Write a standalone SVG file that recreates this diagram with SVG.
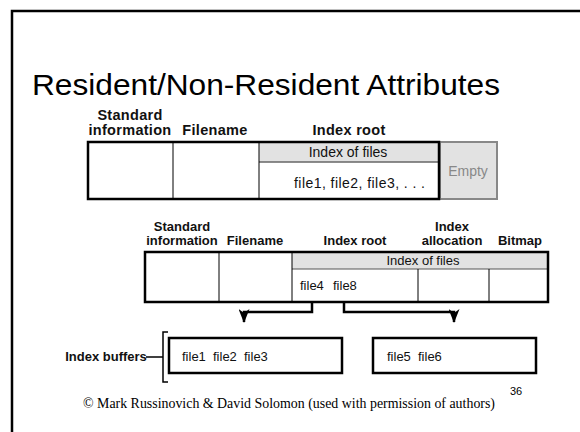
<svg xmlns="http://www.w3.org/2000/svg" width="580" height="432" viewBox="0 0 580 432">
<style>
.hd{font-family:"Liberation Sans",Arial,sans-serif;font-weight:bold;font-size:14.5px;letter-spacing:0.3px;fill:#111;text-anchor:middle}
.hd2{font-family:"Liberation Sans",Arial,sans-serif;font-weight:bold;font-size:13px;fill:#111;text-anchor:middle}
.tx{font-family:"Liberation Sans",Arial,sans-serif;font-size:14px;fill:#111}
.tx2{font-family:"Liberation Sans",Arial,sans-serif;font-size:13px;fill:#111}
.thick{fill:none;stroke:#000;stroke-width:2.5}
.thin{fill:none;stroke:#000;stroke-width:1}
.hdr{fill:#e2e2e2}
.conn{fill:none;stroke:#000;stroke-width:2.5}
</style>
<defs>
<marker id="ah" viewBox="0 0 14 11" refX="13" refY="5.5" markerWidth="14" markerHeight="11" markerUnits="userSpaceOnUse" orient="auto">
<path d="M0,0 L14,5.5 L0,11 L4,5.5 Z" fill="#000"/>
</marker>
</defs>
<rect width="580" height="432" fill="#fff"/>
<path d="M12,432 V11 H580" fill="none" stroke="#000" stroke-width="2.5"/>
<text x="32" y="95" font-family="'Liberation Sans',Arial,sans-serif" font-size="29" fill="#000" textLength="468" lengthAdjust="spacingAndGlyphs">Resident/Non-Resident Attributes</text>

<g id="top-table">
<text class="hd" x="130" y="120">Standard</text>
<text class="hd" x="130" y="135">information</text>
<text class="hd" x="215" y="135">Filename</text>
<text class="hd" x="349" y="135">Index root</text>
<rect class="hdr" x="259" y="143" width="180" height="19"/>
<line x1="259" y1="162" x2="439" y2="162" stroke="#666" stroke-width="1.5"/>
<line class="thin" x1="173" y1="142" x2="173" y2="199"/>
<line class="thin" x1="259" y1="142" x2="259" y2="199"/>
<rect x="440" y="142" width="57" height="57" fill="#e2e2e2" stroke="#888" stroke-width="2"/>
<rect class="thick" x="88" y="142" width="351" height="57"/>
<text class="tx" x="348" y="157" text-anchor="middle">Index of files</text>
<text class="tx" x="294" y="188" textLength="131" lengthAdjust="spacing">file1, file2, file3, . . .</text>
<text class="tx" x="468" y="176" text-anchor="middle" style="fill:#888">Empty</text>
</g>

<g id="bottom-table">
<text class="hd2" x="182" y="231">Standard</text>
<text class="hd2" x="182" y="245">information</text>
<text class="hd2" x="255" y="245">Filename</text>
<text class="hd2" x="355" y="245">Index root</text>
<text class="hd2" x="452" y="231">Index</text>
<text class="hd2" x="452" y="245">allocation</text>
<text class="hd2" x="520" y="245">Bitmap</text>
<rect class="hdr" x="292" y="253" width="256" height="16"/>
<line x1="292" y1="269" x2="548" y2="269" stroke="#555" stroke-width="1"/>
<line class="thin" x1="219" y1="252" x2="219" y2="302"/>
<line class="thin" x1="292" y1="252" x2="292" y2="302"/>
<line class="thin" x1="418" y1="269" x2="418" y2="302"/>
<line class="thin" x1="489" y1="269" x2="489" y2="302"/>
<rect class="thick" x="145" y="252" width="403" height="50"/>
<text class="tx2" x="423" y="265" text-anchor="middle">Index of files</text>
<text class="tx2" x="300" y="290">file4</text>
<text class="tx2" x="333" y="290">file8</text>
</g>

<g id="connectors">
<path class="conn" d="M312,302 V312 H244 V322" marker-end="url(#ah)"/>
<path class="conn" d="M344,302 V312 H454 V322" marker-end="url(#ah)"/>
</g>

<g id="index-buffers">
<text class="hd2" x="106" y="361">Index buffers</text>
<line x1="146" y1="357" x2="163" y2="357" stroke="#000" stroke-width="1.5"/>
<path d="M168,332 H163 V382 H168" fill="none" stroke="#000" stroke-width="1.5"/>
</g>

<g id="buffer-left">
<rect class="thick" x="169" y="338" width="173" height="35"/>
<text class="tx2" x="182" y="361">file1</text>
<text class="tx2" x="213" y="361">file2</text>
<text class="tx2" x="244" y="361">file3</text>
</g>

<g id="buffer-right">
<rect class="thick" x="373" y="338" width="163" height="35"/>
<text class="tx2" x="387" y="361">file5</text>
<text class="tx2" x="418" y="361">file6</text>
</g>

<text x="83" y="408" font-family="'Liberation Serif','Times New Roman',serif" font-size="14" fill="#000" textLength="412" lengthAdjust="spacingAndGlyphs">© Mark Russinovich &amp; David Solomon (used with permission of authors)</text>
<text x="510" y="395" font-family="'Liberation Sans',Arial,sans-serif" font-size="11" fill="#000">36</text>
</svg>
